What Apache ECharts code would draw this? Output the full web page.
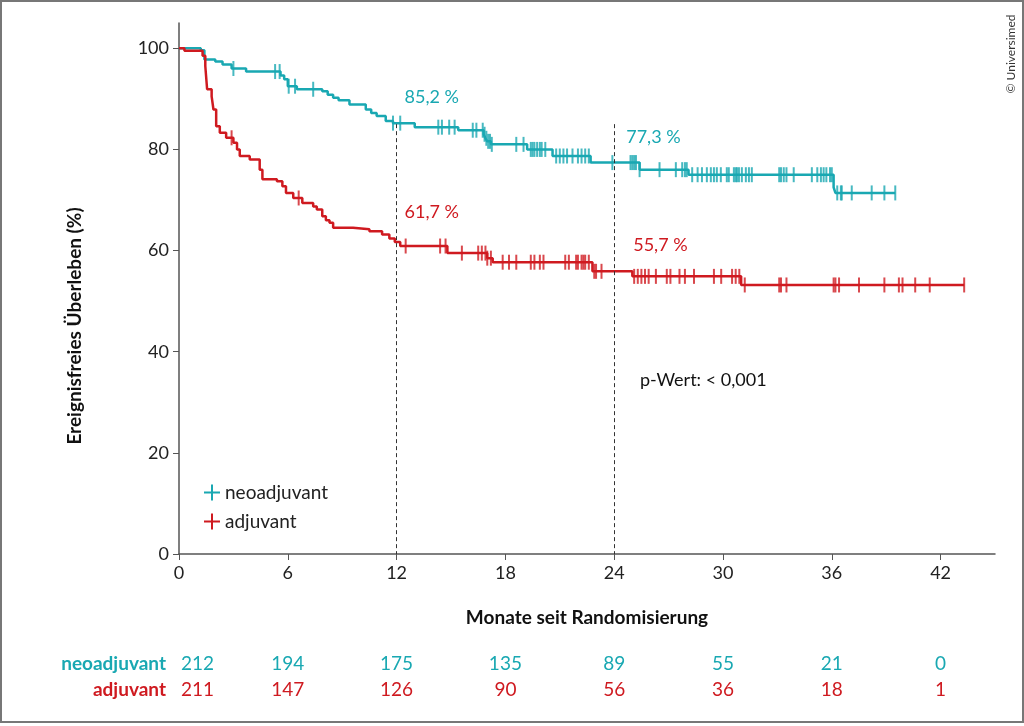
<!DOCTYPE html>
<html>
<head>
<meta charset="utf-8">
<script src="https://cdn.jsdelivr.net/npm/echarts@6/dist/echarts.min.js"></script>
<style>
  html, body { margin: 0; padding: 0; background: #fff; }
  #main { width: 1024px; height: 726px; }
</style>
</head>
<body>
<div id="main"></div>
<script>
// axis ticks
var monthTicks = [0, 6, 12, 18, 24, 30, 36, 42];
var survivalTicks = [0, 20, 40, 60, 80, 100];

// Kaplan-Meier steps [month, survival %]
var neoSteps = [
  [0, 100], [1.2, 99.6], [1.4, 97.8], [2.0, 97.4], [2.4, 96.8], [2.9, 96.0], [3.7, 95.4],
  [5.6, 94.6], [5.8, 93.9], [6.0, 92.5], [6.5, 91.9], [7.9, 91.5], [8.2, 90.8], [8.5, 90.2],
  [8.8, 89.7], [9.4, 88.9], [10.3, 87.9], [10.6, 87.2], [10.9, 86.6], [11.4, 85.6], [11.8, 85.2],
  [13.0, 84.4], [15.4, 83.8], [16.8, 83.0], [16.9, 82.2], [17.0, 81.6], [17.2, 81.0],
  [19.2, 80.0], [20.6, 78.7], [22.7, 77.4], [25.4, 76.0], [28.1, 75.0], [36.1, 72.5],
  [36.2, 71.4], [39.5, 71.4]
];
var adjSteps = [
  [0, 100], [0.3, 99.5], [1.3, 98.5], [1.45, 96.5], [1.55, 91.9], [1.8, 90.5], [1.9, 87.9],
  [2.05, 84.6], [2.25, 83.3], [2.6, 82.3], [3.0, 81.3], [3.2, 80.0], [3.35, 78.7], [3.9, 78.0],
  [4.45, 76.0], [4.6, 74.1], [5.4, 73.7], [5.7, 72.7], [5.9, 71.4], [6.3, 70.4], [6.8, 69.4],
  [7.4, 68.7], [7.6, 68.1], [7.9, 66.8], [8.1, 66.0], [8.3, 65.5], [8.5, 64.5], [9.6, 64.2],
  [10.5, 63.8], [11.2, 63.2], [11.6, 62.4], [11.9, 61.7], [12.2, 60.9], [14.8, 59.5],
  [17.0, 58.5], [17.3, 57.7], [22.8, 55.9], [25.0, 54.9], [31.0, 53.2], [43.3, 53.2]
];

// censored observations (months)
var neoCensored = [
  3.0, 5.3, 5.55, 6.05, 6.4, 7.4, 11.8, 12.2, 14.3, 14.5, 14.9, 15.2, 16.2, 16.4,
  16.75, 16.85, 16.95, 17.05, 17.15, 17.25, 18.6, 19.0, 19.4, 19.5, 19.6, 19.75, 19.9,
  20.0, 20.2, 20.8, 21.0, 21.2, 21.4, 21.7, 22.0, 22.2, 22.4, 22.6, 23.9, 24.9, 25.0,
  25.1, 25.2, 25.4, 26.5, 27.4, 27.75, 27.9, 28.0, 28.3, 28.6, 28.84, 29.11, 29.33, 29.5,
  29.66, 29.88, 30.21, 30.32, 30.6, 30.7, 30.77, 30.88, 31.04, 31.26, 31.43, 31.59,
  33.1, 33.2, 33.35, 33.5, 33.9, 34.9, 35.2, 35.4, 35.55, 35.7, 35.9, 36.0,
  36.3, 36.5, 36.55, 37.1, 38.2, 38.9, 39.5
];
var adjCensored = [
  2.9, 6.6, 12.5, 14.4, 14.7, 15.6, 16.5, 16.7, 16.9, 17.0, 17.2, 17.85, 18.2, 18.6,
  19.4, 19.6, 19.9, 20.1, 21.3, 21.5, 21.9, 22.0, 22.2, 22.3, 22.4, 22.6, 22.9, 23.0, 23.3,
  25.1, 25.3, 25.5, 25.7, 25.9, 26.3, 26.9, 27.1, 27.6, 27.9, 28.4, 29.5, 29.9, 30.5,
  30.7, 30.9, 31.2, 33.1, 33.2, 33.5, 36.1, 36.2, 36.4, 37.5, 38.9, 39.7, 39.9, 40.6,
  41.4, 43.3
];

// landmark values
var milestones = [12, 24];
var neoMilestone = ['85,2 %', '77,3 %'];
var adjMilestone = ['61,7 %', '55,7 %'];
var neoMilestoneVal = [85.2, 77.3];
var adjMilestoneVal = [61.7, 55.7];
var pText = 'p-Wert: < 0,001';

// number at risk
var neoAtRisk = [212, 194, 175, 135, 89, 55, 21, 0];
var adjAtRisk = [211, 147, 126, 90, 56, 36, 18, 1];

var TEAL = '#19a8b2';
var RED = '#cf1a20';
var FONT = 'Lato, "Noto Sans", sans-serif';
var plusIcon = 'path://M7,0h2v16h-2z M0,7h16v2h-16z';

function survivalAt(steps, t) {
  var v = steps[0][1];
  for (var i = 0; i < steps.length; i++) {
    if (steps[i][0] <= t) v = steps[i][1];
  }
  return v;
}
function censorPoints(steps, times) {
  return times.map(function (t) { return [t, survivalAt(steps, t)]; });
}

var chartDom = document.getElementById('main');
var myChart = echarts.init(chartDom);

var refLines = milestones.map(function (m) {
  return [{ coord: [m, 85] }, { coord: [m, 0] }];
});

var option = {
  animation: false,
  textStyle: { fontFamily: FONT },
  grid: { left: 179, right: 29, top: 23, bottom: 172 },
  legend: {
    orient: 'vertical',
    left: 199,
    top: 478,
    itemWidth: 16,
    itemHeight: 16,
    itemGap: 10,
    textStyle: { fontSize: 19, color: '#222', fontFamily: FONT },
    data: [
      { name: 'neoadjuvant', icon: plusIcon, itemStyle: { color: TEAL } },
      { name: 'adjuvant', icon: plusIcon, itemStyle: { color: RED } }
    ]
  },
  xAxis: {
    type: 'value',
    min: 0,
    max: 45,
    interval: 6,
    name: 'Monate seit Randomisierung',
    nameLocation: 'middle',
    nameGap: 54,
    nameTextStyle: { fontSize: 19, fontWeight: 'bold', color: '#111', fontFamily: FONT },
    axisLine: { lineStyle: { color: '#555', width: 1.5 } },
    axisTick: { length: 6, lineStyle: { color: '#555' }, customValues: monthTicks },
    axisLabel: { fontSize: 18, color: '#222', margin: 10, customValues: monthTicks },
    splitLine: { show: false }
  },
  yAxis: {
    type: 'value',
    min: 0,
    max: 105,
    interval: 20,
    axisLine: { show: true, lineStyle: { color: '#555', width: 1.5 } },
    axisTick: { show: true, length: 6, lineStyle: { color: '#555' }, customValues: survivalTicks },
    axisLabel: { fontSize: 18, color: '#222', margin: 10, customValues: survivalTicks },
    splitLine: { show: false }
  },
  series: [
    {
      name: 'neoadjuvant',
      type: 'line',
      step: 'end',
      showSymbol: false,
      data: neoSteps,
      lineStyle: { color: TEAL, width: 2.5 },
      itemStyle: { color: TEAL },
      z: 3,
      markLine: {
        silent: true,
        symbol: 'none',
        label: { show: false },
        lineStyle: { color: '#333', type: [4, 3], width: 1 },
        data: refLines
      }
    },
    {
      name: 'adjuvant',
      type: 'line',
      step: 'end',
      showSymbol: false,
      data: adjSteps,
      lineStyle: { color: RED, width: 2.5 },
      itemStyle: { color: RED },
      z: 3
    },
    {
      name: 'neoadjuvant',
      type: 'scatter',
      symbol: 'rect',
      symbolSize: [2, 15],
      data: censorPoints(neoSteps, neoCensored),
      itemStyle: { color: TEAL },
      z: 4
    },
    {
      name: 'adjuvant',
      type: 'scatter',
      symbol: 'rect',
      symbolSize: [2, 15],
      data: censorPoints(adjSteps, adjCensored),
      itemStyle: { color: RED },
      z: 4
    }
  ]
};

myChart.setOption(option);

// texts placed from data coordinates
var graphics = [];
milestones.forEach(function (m, i) {
  var pn = myChart.convertToPixel({ gridIndex: 0 }, [m, neoMilestoneVal[i]]);
  var pa = myChart.convertToPixel({ gridIndex: 0 }, [m, adjMilestoneVal[i]]);
  graphics.push({
    type: 'text', x: pn[0] + (i === 0 ? 8 : 12), y: pn[1] - 26,
    style: { text: neoMilestone[i], fill: TEAL, font: '18px ' + FONT, textVerticalAlign: 'middle' }
  });
  graphics.push({
    type: 'text', x: pa[0] + (i === 0 ? 8 : 19), y: pa[1] - (i === 0 ? 30 : 27),
    style: { text: adjMilestone[i], fill: RED, font: '18px ' + FONT, textVerticalAlign: 'middle' }
  });
});
graphics.push({
  type: 'text', x: 640, y: 380,
  style: { text: pText, fill: '#111', font: '18px ' + FONT, textVerticalAlign: 'middle' }
});

// number-at-risk table
graphics.push({
  type: 'text', x: 166, y: 664,
  style: { text: 'neoadjuvant', fill: TEAL, font: 'bold 19px ' + FONT, textAlign: 'right', textVerticalAlign: 'middle' }
});
graphics.push({
  type: 'text', x: 166, y: 690,
  style: { text: 'adjuvant', fill: RED, font: 'bold 19px ' + FONT, textAlign: 'right', textVerticalAlign: 'middle' }
});
monthTicks.forEach(function (m, i) {
  var px = myChart.convertToPixel({ gridIndex: 0 }, [m, 0])[0];
  var x = i === 0 ? px + 2 : px;
  var align = i === 0 ? 'left' : 'center';
  graphics.push({
    type: 'text', x: x, y: 664,
    style: { text: String(neoAtRisk[i]), fill: TEAL, font: '19px ' + FONT, textAlign: align, textVerticalAlign: 'middle' }
  });
  graphics.push({
    type: 'text', x: x, y: 690,
    style: { text: String(adjAtRisk[i]), fill: RED, font: '19px ' + FONT, textAlign: align, textVerticalAlign: 'middle' }
  });
});

// y axis title
graphics.push({
  type: 'text', x: 75, y: 326, rotation: Math.PI / 2,
  style: { text: 'Ereignisfreies Überleben (%)', fill: '#111', font: 'bold 19px ' + FONT, textAlign: 'center', textVerticalAlign: 'middle' }
});

// copyright
graphics.push({
  type: 'text', x: 1011, y: 54, rotation: Math.PI / 2,
  style: { text: '© Universimed', fill: '#333', font: '12px ' + FONT, textAlign: 'center', textVerticalAlign: 'middle' }
});

// frame
graphics.push({
  type: 'rect', shape: { x: 1, y: 1, width: 1022, height: 721 },
  style: { fill: 'none', stroke: '#777', lineWidth: 2 }, silent: true
});

myChart.setOption({ graphic: graphics });
</script>
</body>
</html>
